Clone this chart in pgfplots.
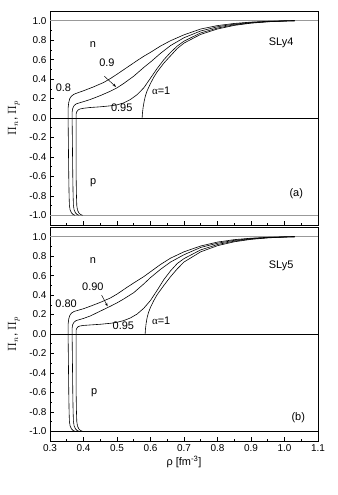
\documentclass[border=0pt]{standalone}
\usepackage{pgfplots}
\pgfplotsset{compat=1.18}
\usepackage{fontspec}
\setmainfont{Liberation Sans}
\newfontfamily\seriffont{Liberation Serif}
\usetikzlibrary{arrows.meta}

\pgfplotsset{
  panel/.style={
    scale only axis, width=268bp, height=214bp,
    xmin=0.3, xmax=1.1, ymin=-1.1, ymax=1.1,
    xtick={0.3,0.4,0.5,0.6,0.7,0.8,0.9,1.0,1.1},
    ytick={-1,-0.8,-0.6,-0.4,-0.2,0,0.2,0.4,0.6,0.8,1},
    minor x tick num=1, minor y tick num=1,
    tick align=inside, xtick pos=bottom, ytick pos=left,
    major tick length=4bp, minor tick length=2bp,
    every tick/.style={black, line width=0.5bp},
    axis line style={line width=0.7bp},
    tick label style={font=\fontsize{10}{12}\selectfont},
    /pgf/number format/assume math mode=true,
    xticklabel style={/pgf/number format/fixed, /pgf/number format/fixed zerofill, /pgf/number format/precision=1},
    yticklabel style={/pgf/number format/fixed, /pgf/number format/fixed zerofill, /pgf/number format/precision=1},
    every axis y label/.style={at={(axis description cs:-0.135,0.5)}, rotate=90, anchor=center, font=\fontsize{12}{14}\selectfont},
    every axis x label/.style={at={(axis description cs:0.5,-0.1)}, anchor=center, font=\fontsize{11}{13}\selectfont},
    ylabel={$\Pi_n$, $\Pi_p$},
    clip=false,
  },
  curve/.style={black, line width=0.6bp},
}
\tikzset{txt/.style={font=\fontsize{11}{13}\selectfont}}

\begin{document}
\begin{tikzpicture}
\useasboundingbox (-50bp,11bp) rectangle (288bp,-484bp);

% (a) SLy4
\begin{axis}[panel, at={(0,0)}, anchor=north west, xticklabels={}]
  \addplot[gray!80, line width=0.5bp] coordinates {(0.3,1) (1.1,1)};
  \addplot[black, line width=0.7bp] coordinates {(0.3,0) (1.1,0)};
  \addplot[gray!80, line width=0.6bp] coordinates {(0.3,-1) (1.1,-1)};
  % alpha = 0.8
  \addplot[curve] coordinates {
    (0.375,-1.000) (0.369,-0.992) (0.364,-0.975) (0.360,-0.945) (0.358,-0.90)
    (0.357,-0.80) (0.356,-0.60) (0.355,-0.30) (0.354,0.00) (0.354,0.10)
    (0.356,0.16) (0.359,0.20) (0.364,0.225) (0.372,0.245) (0.385,0.262)
    (0.40,0.28) (0.43,0.32) (0.46,0.365) (0.48,0.405) (0.50,0.45)
    (0.53,0.52) (0.56,0.59) (0.58,0.635) (0.60,0.675) (0.63,0.74)
    (0.66,0.795) (0.70,0.855) (0.75,0.915) (0.80,0.95) (0.85,0.972)
    (0.90,0.986) (0.95,0.994) (1.00,0.998) (1.03,1.0)};
  % alpha = 0.9
  \addplot[curve] coordinates {
    (0.387,-1.000) (0.381,-0.992) (0.376,-0.975) (0.372,-0.945) (0.370,-0.90)
    (0.369,-0.80) (0.368,-0.60) (0.367,-0.30) (0.366,0.00) (0.366,0.06)
    (0.368,0.10) (0.372,0.128) (0.378,0.145) (0.39,0.158) (0.40,0.168)
    (0.42,0.19) (0.45,0.23) (0.48,0.275) (0.50,0.31) (0.52,0.355)
    (0.55,0.43) (0.58,0.52) (0.60,0.575) (0.63,0.665) (0.66,0.745)
    (0.70,0.825) (0.75,0.895) (0.80,0.938) (0.85,0.965) (0.90,0.982)
    (0.95,0.992) (1.00,0.998) (1.03,1.0)};
  % alpha = 0.95
  \addplot[curve] coordinates {
    (0.397,-1.000) (0.391,-0.992) (0.386,-0.975) (0.382,-0.945) (0.380,-0.90)
    (0.379,-0.80) (0.378,-0.60) (0.378,-0.30) (0.378,0.00) (0.378,0.04)
    (0.380,0.065) (0.384,0.083) (0.39,0.093) (0.40,0.10) (0.42,0.108)
    (0.45,0.115) (0.48,0.125) (0.50,0.135) (0.52,0.155) (0.54,0.19)
    (0.56,0.24) (0.58,0.31) (0.60,0.41) (0.62,0.51) (0.64,0.60)
    (0.66,0.675) (0.68,0.74) (0.70,0.79) (0.75,0.875) (0.80,0.925)
    (0.85,0.958) (0.90,0.978) (0.95,0.99) (1.00,0.997) (1.03,1.0)};
  % alpha = 1
  \addplot[curve] coordinates {
    (0.575,0.0) (0.576,0.05) (0.578,0.11) (0.581,0.17) (0.585,0.23)
    (0.59,0.28) (0.60,0.355) (0.61,0.42) (0.62,0.475) (0.64,0.565)
    (0.66,0.64) (0.68,0.715) (0.70,0.77) (0.75,0.86) (0.80,0.915)
    (0.85,0.952) (0.90,0.975) (0.95,0.989) (1.00,0.997) (1.03,1.0)};
  \node[txt] at (axis cs:0.428,0.755) {n};
  \node[txt] at (axis cs:0.429,-0.67) {p};
  \node[txt] at (axis cs:0.340,0.31) {0.8};
  \node[txt] at (axis cs:0.470,0.57) {0.9};
  \draw[line width=0.5bp, -{Stealth[length=3.5bp,width=2.5bp]}] (axis cs:0.462,0.43) -- (axis cs:0.497,0.32);
  \node[txt] at (axis cs:0.514,0.11) {0.95};
  \node[txt] at (axis cs:0.632,0.28) {{\seriffont α}=1};
  \node[txt] at (axis cs:0.99,0.77) {SLy4};
  \node[txt] at (axis cs:1.035,-0.78) {(a)};
\end{axis}

% (b) SLy5
\begin{axis}[panel, at={(0,-216bp)}, anchor=north west, xlabel={ρ [fm\textsuperscript{-3}]}]
  \addplot[gray!80, line width=0.5bp] coordinates {(0.3,1) (1.1,1)};
  \addplot[black, line width=0.7bp] coordinates {(0.3,0) (1.1,0)};
  \addplot[black, line width=0.6bp] coordinates {(0.3,-1) (1.1,-1)};
  % alpha = 0.80
  \addplot[curve] coordinates {
    (0.375,-1.000) (0.369,-0.992) (0.364,-0.975) (0.360,-0.945) (0.358,-0.90)
    (0.357,-0.80) (0.356,-0.60) (0.355,-0.30) (0.354,0.00) (0.354,0.10)
    (0.356,0.155) (0.359,0.19) (0.364,0.215) (0.372,0.232) (0.385,0.245)
    (0.40,0.26) (0.42,0.285) (0.45,0.325) (0.48,0.37) (0.50,0.41)
    (0.53,0.48) (0.55,0.525) (0.58,0.59) (0.60,0.64) (0.63,0.715)
    (0.66,0.78) (0.70,0.845) (0.75,0.905) (0.80,0.945) (0.85,0.97)
    (0.90,0.985) (0.95,0.994) (1.00,0.998) (1.03,1.0)};
  % alpha = 0.90
  \addplot[curve] coordinates {
    (0.387,-1.000) (0.381,-0.992) (0.376,-0.975) (0.372,-0.945) (0.370,-0.90)
    (0.369,-0.80) (0.368,-0.60) (0.367,-0.30) (0.366,0.00) (0.366,0.06)
    (0.368,0.10) (0.372,0.122) (0.378,0.138) (0.39,0.15) (0.40,0.16)
    (0.42,0.185) (0.45,0.235) (0.48,0.285) (0.50,0.32) (0.52,0.36)
    (0.55,0.425) (0.58,0.515) (0.60,0.58) (0.63,0.665) (0.66,0.74)
    (0.70,0.815) (0.75,0.89) (0.80,0.933) (0.85,0.963) (0.90,0.981)
    (0.95,0.992) (1.00,0.998) (1.03,1.0)};
  % alpha = 0.95
  \addplot[curve] coordinates {
    (0.397,-1.000) (0.391,-0.992) (0.386,-0.975) (0.382,-0.945) (0.380,-0.90)
    (0.379,-0.80) (0.378,-0.60) (0.378,-0.30) (0.378,0.00) (0.378,0.04)
    (0.380,0.06) (0.384,0.075) (0.39,0.083) (0.40,0.088) (0.42,0.093)
    (0.45,0.10) (0.48,0.11) (0.50,0.12) (0.52,0.138) (0.54,0.165)
    (0.56,0.205) (0.58,0.265) (0.60,0.345) (0.62,0.45) (0.64,0.56)
    (0.66,0.65) (0.68,0.725) (0.70,0.775) (0.75,0.865) (0.80,0.92)
    (0.85,0.955) (0.90,0.977) (0.95,0.99) (1.00,0.997) (1.03,1.0)};
  % alpha = 1
  \addplot[curve] coordinates {
    (0.584,0.0) (0.585,0.05) (0.587,0.11) (0.590,0.17) (0.594,0.22)
    (0.60,0.275) (0.61,0.345) (0.62,0.405) (0.64,0.50) (0.66,0.59)
    (0.68,0.67) (0.70,0.74) (0.75,0.845) (0.80,0.908) (0.85,0.948)
    (0.90,0.973) (0.95,0.988) (1.00,0.997) (1.03,1.0)};
  \node[txt] at (axis cs:0.428,0.76) {n};
  \node[txt] at (axis cs:0.432,-0.605) {p};
  \node[txt] at (axis cs:0.348,0.31) {0.80};
  \node[txt] at (axis cs:0.428,0.485) {0.90};
  \draw[line width=0.5bp, -{Stealth[length=3.5bp,width=2.5bp]}] (axis cs:0.454,0.40) -- (axis cs:0.472,0.285);
  \node[txt] at (axis cs:0.519,0.085) {0.95};
  \node[txt] at (axis cs:0.632,0.135) {{\seriffont α}=1};
  \node[txt] at (axis cs:0.99,0.70) {SLy5};
  \node[txt] at (axis cs:1.041,-0.86) {(b)};
\end{axis}
\end{tikzpicture}
\end{document}
